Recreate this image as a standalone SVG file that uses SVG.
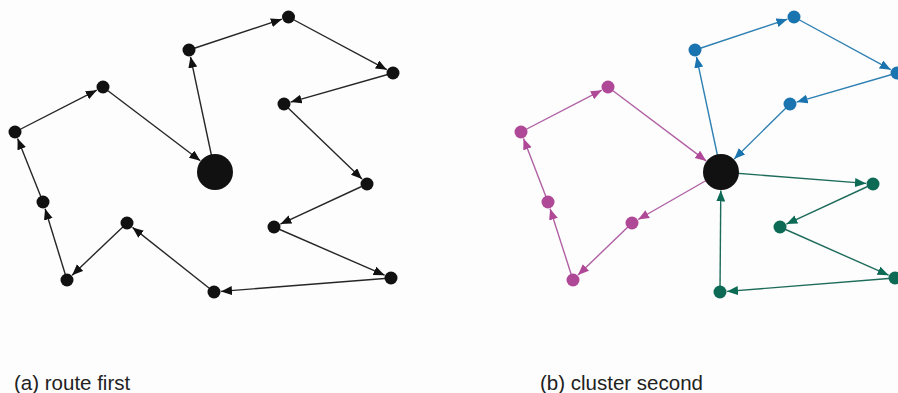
<svg xmlns="http://www.w3.org/2000/svg" width="898" height="393" viewBox="0 0 898 393">
<style>
.e{fill:none;stroke-width:1.4}
.k{stroke:#262626}.kf{fill:#111}
.b{stroke:#2f80b3}.bf{fill:#1a74b0}
.g{stroke:#1d6b5a}.gf{fill:#0c6a55}
.m{stroke:#b060a4}.mf{fill:#b04898}
.lbl{font-family:"Liberation Sans",Arial,sans-serif;font-size:20.5px;fill:#222}
</style>
<defs>
<marker id="ak" markerUnits="userSpaceOnUse" markerWidth="12" markerHeight="10" refX="11" refY="4.5" orient="auto"><path d="M0,0 L11,4.5 L0,9 z" fill="#111"/></marker>
<marker id="ab" markerUnits="userSpaceOnUse" markerWidth="12" markerHeight="10" refX="11" refY="4.5" orient="auto"><path d="M0,0 L11,4.5 L0,9 z" fill="#1a74b0"/></marker>
<marker id="ag" markerUnits="userSpaceOnUse" markerWidth="12" markerHeight="10" refX="11" refY="4.5" orient="auto"><path d="M0,0 L11,4.5 L0,9 z" fill="#0c6a55"/></marker>
<marker id="am" markerUnits="userSpaceOnUse" markerWidth="12" markerHeight="10" refX="11" refY="4.5" orient="auto"><path d="M0,0 L11,4.5 L0,9 z" fill="#b04898"/></marker>
</defs>
<rect width="898" height="393" fill="#fdfdfd"/>
<g id="connectors">
<g class="e k" marker-end="url(#ak)">
<line x1="215" y1="172" x2="190.5" y2="56.8"/>
<line x1="189" y1="50" x2="281.9" y2="19.2"/>
<line x1="288.5" y1="17" x2="386.8" y2="69.7"/>
<line x1="393" y1="73" x2="290.7" y2="102.1"/>
<line x1="284" y1="104" x2="362" y2="179.1"/>
<line x1="367" y1="184" x2="280.4" y2="224.1"/>
<line x1="274" y1="227" x2="384.6" y2="275.2"/>
<line x1="391" y1="278" x2="221" y2="291.4"/>
<line x1="214" y1="292" x2="132.5" y2="227.4"/>
<line x1="127" y1="223" x2="72.1" y2="275.2"/>
<line x1="67" y1="280" x2="45.1" y2="208.7"/>
<line x1="43" y1="202" x2="17.6" y2="138.5"/>
<line x1="15" y1="132" x2="96.8" y2="90.2"/>
<line x1="103" y1="87" x2="200.3" y2="160.8"/>
</g>
<g class="e b" marker-end="url(#ab)">
<line x1="721" y1="172" x2="696.5" y2="56.8"/>
<line x1="695" y1="50" x2="787.4" y2="19.2"/>
<line x1="794" y1="17" x2="890.8" y2="69.7"/>
<line x1="897" y1="73" x2="796.7" y2="102.1"/>
<line x1="790" y1="104" x2="734.2" y2="159"/>
</g>
<g class="e g" marker-end="url(#ag)">
<line x1="721" y1="172" x2="866" y2="183.4"/>
<line x1="873" y1="184" x2="786.4" y2="224.1"/>
<line x1="780" y1="227" x2="888.6" y2="275.2"/>
<line x1="895" y1="278" x2="727" y2="291.4"/>
<line x1="720" y1="292" x2="720.8" y2="190.5"/>
</g>
<g class="e m" marker-end="url(#am)">
<line x1="721" y1="172" x2="638.1" y2="219.5"/>
<line x1="632" y1="223" x2="578" y2="275.1"/>
<line x1="573" y1="280" x2="550.1" y2="208.7"/>
<line x1="548" y1="202" x2="523.5" y2="138.5"/>
<line x1="521" y1="132" x2="601.8" y2="90.2"/>
<line x1="608" y1="87" x2="706.2" y2="160.9"/>
</g>
</g>
<g id="route-first">
<g id="a-depot"><circle class="kf" cx="215" cy="172" r="18"/></g>
<g id="a-n1"><circle class="kf" cx="189" cy="50" r="6.5"/></g>
<g id="a-n2"><circle class="kf" cx="288.5" cy="17" r="6.5"/></g>
<g id="a-n3"><circle class="kf" cx="393" cy="73" r="6.5"/></g>
<g id="a-n4"><circle class="kf" cx="284" cy="104" r="6.5"/></g>
<g id="a-n5"><circle class="kf" cx="367" cy="184" r="6.5"/></g>
<g id="a-n6"><circle class="kf" cx="274" cy="227" r="6.5"/></g>
<g id="a-n7"><circle class="kf" cx="391" cy="278" r="6.5"/></g>
<g id="a-n8"><circle class="kf" cx="214" cy="292" r="6.5"/></g>
<g id="a-n9"><circle class="kf" cx="127" cy="223" r="6.5"/></g>
<g id="a-n10"><circle class="kf" cx="67" cy="280" r="6.5"/></g>
<g id="a-n11"><circle class="kf" cx="43" cy="202" r="6.5"/></g>
<g id="a-n12"><circle class="kf" cx="15" cy="132" r="6.5"/></g>
<g id="a-n13"><circle class="kf" cx="103" cy="87" r="6.5"/></g>
</g>
<g id="cluster-second">
<g id="b-depot"><circle class="kf" cx="721" cy="172" r="18"/></g>
<g id="b-n1"><circle class="bf" cx="695" cy="50" r="6.5"/></g>
<g id="b-n2"><circle class="bf" cx="794" cy="17" r="6.5"/></g>
<g id="b-n3"><circle class="bf" cx="897" cy="73" r="6.5"/></g>
<g id="b-n4"><circle class="bf" cx="790" cy="104" r="6.5"/></g>
<g id="b-n5"><circle class="gf" cx="873" cy="184" r="6.5"/></g>
<g id="b-n6"><circle class="gf" cx="780" cy="227" r="6.5"/></g>
<g id="b-n7"><circle class="gf" cx="895" cy="278" r="6.5"/></g>
<g id="b-n8"><circle class="gf" cx="720" cy="292" r="6.5"/></g>
<g id="b-n9"><circle class="mf" cx="632" cy="223" r="6.5"/></g>
<g id="b-n10"><circle class="mf" cx="573" cy="280" r="6.5"/></g>
<g id="b-n11"><circle class="mf" cx="548" cy="202" r="6.5"/></g>
<g id="b-n12"><circle class="mf" cx="521" cy="132" r="6.5"/></g>
<g id="b-n13"><circle class="mf" cx="608" cy="87" r="6.5"/></g>
</g>
<g id="labels">
<text class="lbl" x="14" y="390">(a) route first</text>
<text class="lbl" x="540" y="390">(b) cluster second</text>
</g>
</svg>
